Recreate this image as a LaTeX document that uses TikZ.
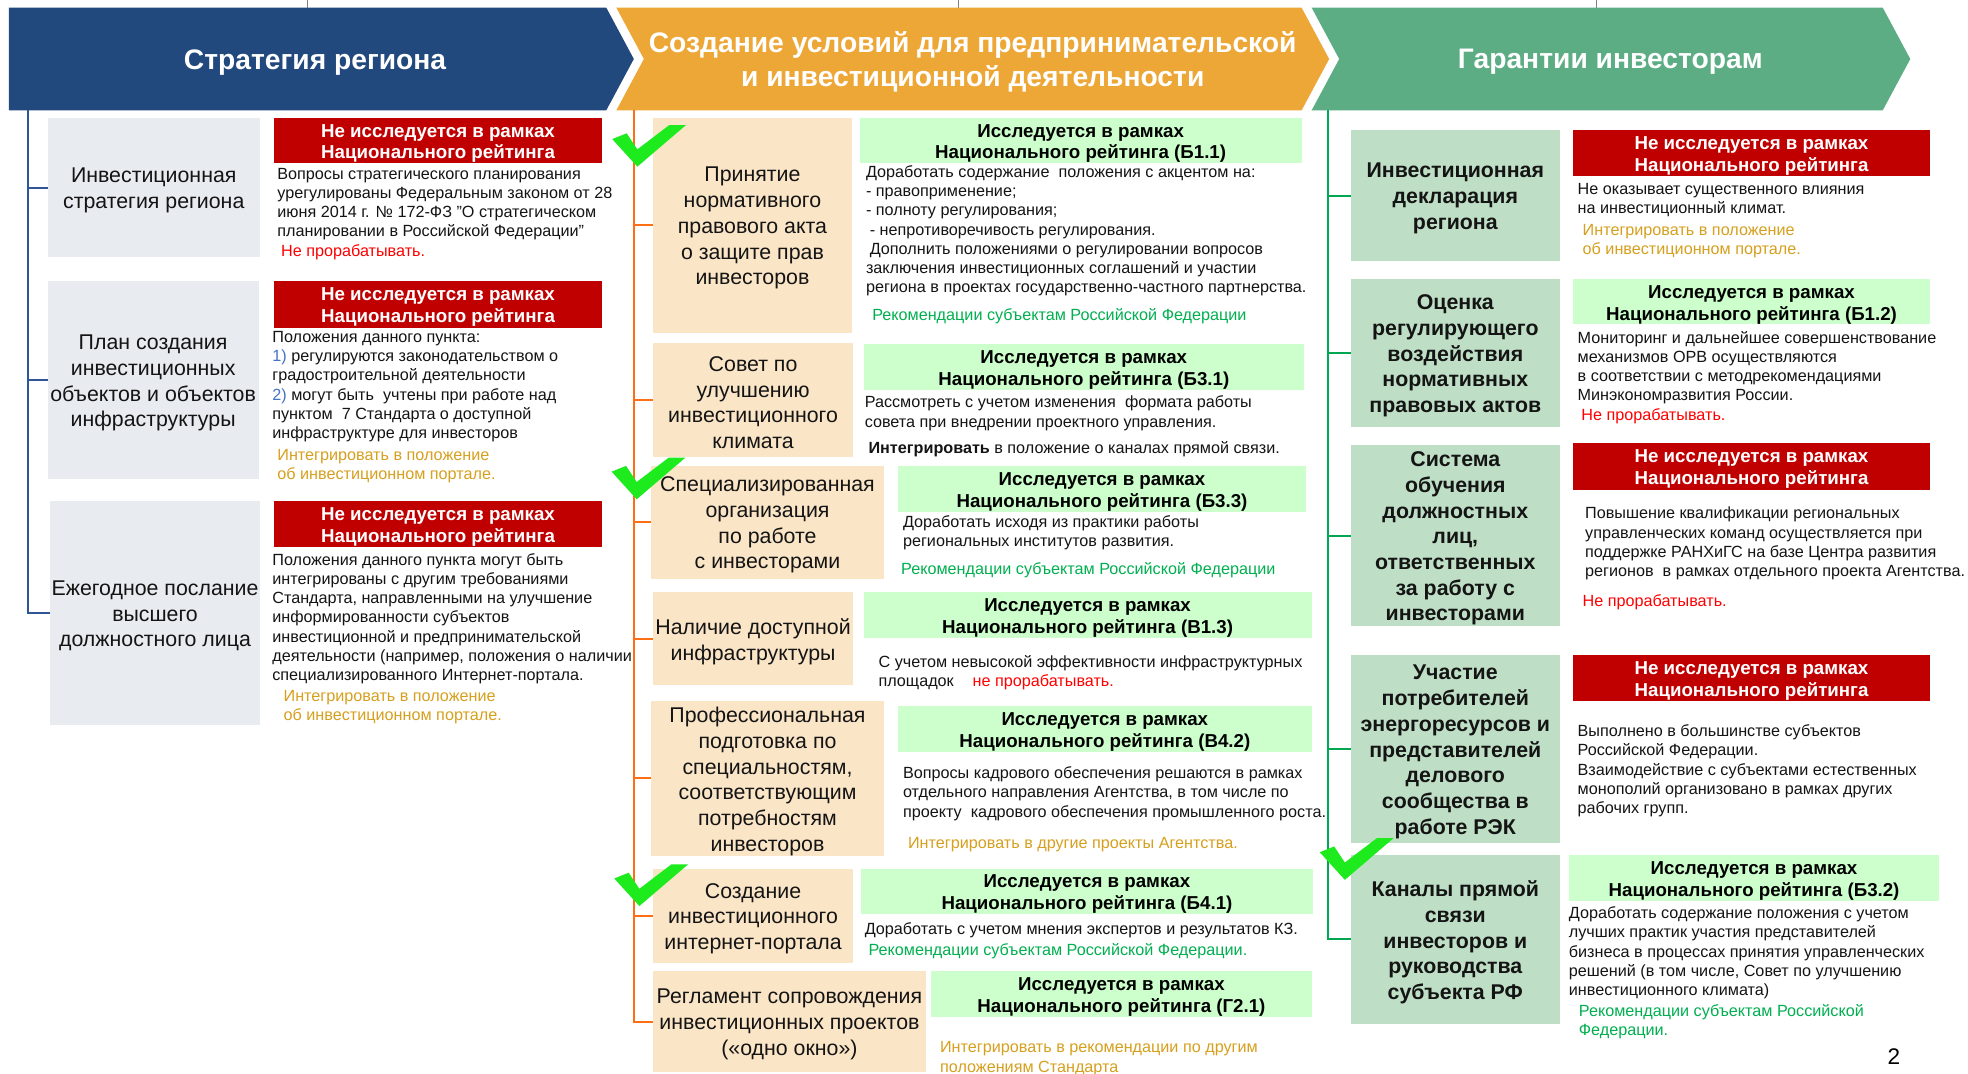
\documentclass[tikz,border=0pt]{standalone}
\usepackage{fontspec}
\setmainfont{Liberation Sans}
\definecolor{hblue}{RGB}{34,73,125}
\definecolor{horange}{RGB}{237,167,55}
\definecolor{hgreen}{RGB}{92,172,132}
\definecolor{gbox}{RGB}{232,235,240}
\definecolor{bbox}{RGB}{250,229,199}
\definecolor{sbox}{RGB}{190,223,197}
\definecolor{lgr}{RGB}{204,255,204}
\definecolor{rlab}{RGB}{192,0,0}
\definecolor{lblue}{RGB}{47,85,151}
\definecolor{lorange}{RGB}{255,110,20}
\definecolor{lgreen}{RGB}{0,166,81}
\definecolor{tgold}{RGB}{214,160,30}
\definecolor{tgreen}{RGB}{0,176,80}
\definecolor{tred}{RGB}{255,0,0}
\definecolor{tblue}{RGB}{68,114,196}
\definecolor{chkc}{RGB}{30,235,30}
\definecolor{txt}{RGB}{20,20,20}
\newcommand\bx[7]{\node[#2, minimum width={(#5-#3)*1pt}, minimum height={(#6-#4)*1pt}] (#1) at ({(#3+#5)/2},{(#4+#6)/2}) {};
\node[#2, fill=none, yshift=-2.3pt] (#1t) at (#1.center) {#7};}
\newcommand\chk[1]{\fill[chkc,shift={(#1)}] (-20,-22) -- (-8.5,-26.6) -- (0,-13.8) -- (25.5,-33.2) -- (38.8,-33.2) -- (0,0) -- cycle;}
\tikzset{
 boxbase/.style={inner sep=0pt, outer sep=0pt, align=center, text=txt},
 graybox/.style={boxbase, fill=gbox, font=\fontsize{17}{20.5}\selectfont},
 beigebox/.style={boxbase, fill=bbox, font=\fontsize{17}{20.5}\selectfont},
 sagebox/.style={boxbase, fill=sbox, font=\bfseries\fontsize{17}{20.5}\selectfont},
 redlab/.style={boxbase, fill=rlab, text=white, font=\bfseries\fontsize{14.9}{17.3}\selectfont},
 grnlab/.style={boxbase, fill=lgr, text=black, font=\bfseries\fontsize{14.9}{17.3}\selectfont},
 body/.style={anchor=north west, inner sep=0pt, outer sep=0pt, yshift=-2pt, align=left, text=txt, font=\fontsize{12.9}{15.3}\selectfont},
 goldt/.style={body, text=tgold},
 greent/.style={body, text=tgreen},
 redt/.style={body, text=tred},
 hdrtext/.style={text=white, font=\bfseries\fontsize{22.5}{27}\selectfont, align=center, inner sep=0pt, yshift=-1.5pt},
 bln/.style={draw=lblue, line width=1.6pt},
 oln/.style={draw=lorange, line width=1.6pt},
 gln/.style={draw=lgreen, line width=1.6pt},
 stub/.style={draw=gray, line width=0.8pt}
}
\begin{document}
\begin{tikzpicture}[x=1pt,y=-1pt]
\useasboundingbox[fill=white] (0,0) rectangle (1568,855);
% top stubs
\coordinate (t1) at (245,0); \coordinate (t2) at (764,0); \coordinate (t3) at (1272,0);
\draw[stub] (t1) -- ++(0,6);
\draw[stub] (t2) -- ++(0,6);
\draw[stub] (t3) -- ++(0,6);
% headers
\fill[hblue] (7,6) -- (483,6) -- (505,47) -- (483,88) -- (7,88) -- cycle;
\fill[horange] (491,6) -- (1037,6) -- (1059,47) -- (1037,88) -- (491,88) -- (513,47) -- cycle;
\fill[hgreen] (1045,6) -- (1500,6) -- (1522,47) -- (1500,88) -- (1045,88) -- (1067,47) -- cycle;
\node[hdrtext] (hb) at (251,48) {Стратегия региона};
\node[hdrtext] (ho) at (775,48) {Создание условий для предпринимательской\\и инвестиционной деятельности};
\node[hdrtext] (hg) at (1283,48) {Гарантии инвесторам};

% ---------- left column
\bx{g1}{graybox}{38}{94}{207}{205}{Инвестиционная\\стратегия региона}
\bx{g2}{graybox}{38}{224}{206}{382}{План создания\\инвестиционных\\объектов и объектов\\инфраструктуры}
\bx{g3}{graybox}{40}{399}{207}{578}{Ежегодное послание\\высшего\\должностного лица}
\bx{lr1}{redlab}{218}{94}{480}{130}{Не исследуется в рамках\\Национального рейтинга}
\bx{lr2}{redlab}{218}{224}{480}{261}{Не исследуется в рамках\\Национального рейтинга}
\bx{lr3}{redlab}{218}{399}{480}{436}{Не исследуется в рамках\\Национального рейтинга}
\node[body] (l1t) at (221,132) {Вопросы стратегического планирования\\урегулированы Федеральным законом от 28\\июня 2014 г. № 172-ФЗ "О стратегическом\\планировании в Российской Федерации"\\\hspace{3pt}\textcolor{tred}{Не прорабатывать.}};
\node[body] (l2t) at (217,262) {Положения данного пункта:\\\textcolor{tblue}{1)} регулируются законодательством о\\градостроительной деятельности\\\textcolor{tblue}{2)} могут быть\ \ учтены при работе над\\пунктом\ \ 7 Стандарта о доступной\\инфраструктуре для инвесторов};
\node[goldt] (l2g) at (221,356) {Интегрировать в положение\\об инвестиционном портале.};
\node[body] (l3t) at (217,439) {Положения данного пункта могут быть\\интегрированы с другим требованиями\\Стандарта, направленными на улучшение\\информированности субъектов\\инвестиционной и предпринимательской\\деятельности (например, положения о наличии\\специализированного Интернет-портала.};
\node[goldt] (l3g) at (226,548) {Интегрировать в положение\\об инвестиционном портале.};

% ---------- middle column
\bx{b1}{beigebox}{520}{94}{679}{265}{Принятие\\нормативного\\правового акта\\о защите прав\\инвесторов}
\bx{b2}{beigebox}{520}{273}{680}{364}{Совет по\\улучшению\\инвестиционного\\климата}
\bx{b3}{beigebox}{519}{371}{704}{461}{Специализированная\\организация\\по работе\\с инвесторами}
\bx{b4}{beigebox}{520}{472}{680}{546}{Наличие доступной\\инфраструктуры}
\bx{b5}{beigebox}{519}{558.5}{704}{682}{Профессиональная\\подготовка по\\специальностям,\\соответствующим\\потребностям\\инвесторов}
\bx{b6}{beigebox}{520}{692}{680}{767}{Создание\\инвестиционного\\интернет-портала}
\bx{b7}{beigebox}{520}{774}{738}{854}{Регламент сопровождения\\инвестиционных проектов\\(«одно окно»)}
\bx{m1}{grnlab}{685}{94}{1037}{130}{Исследуется в рамках\\Национального рейтинга (Б1.1)}
\bx{m2}{grnlab}{688}{274}{1039}{311}{Исследуется в рамках\\Национального рейтинга (Б3.1)}
\bx{m3}{grnlab}{715.5}{371}{1040.5}{408}{Исследуется в рамках\\Национального рейтинга (Б3.3)}
\bx{m4}{grnlab}{688}{472}{1045}{508}{Исследуется в рамках\\Национального рейтинга (В1.3)}
\bx{m5}{grnlab}{715.5}{562.5}{1045}{599}{Исследуется в рамках\\Национального рейтинга (В4.2)}
\bx{m6}{grnlab}{686}{692}{1046}{728}{Исследуется в рамках\\Национального рейтинга (Б4.1)}
\bx{m7}{grnlab}{742}{774}{1045}{810}{Исследуется в рамках\\Национального рейтинга (Г2.1)}
\node[body] (m1t) at (690,130) {Доработать содержание\ \ положения с акцентом на:\\- правоприменение;\\- полноту регулирования;\\\hspace{3pt}- непротиворечивость регулирования.\\\hspace{3pt}Дополнить положениями о регулировании вопросов\\заключения инвестиционных соглашений и участии\\региона в проектах государственно-частного партнерства.};
\node[greent] (m1g) at (695,244) {Рекомендации субъектам Российской Федерации};
\node[body] (m2t) at (689,313.5) {Рассмотреть с учетом изменения\ \ формата работы\\совета при внедрении проектного управления.};
\node[body] (m2b) at (692,349.5) {\textbf{Интегрировать} в положение о каналах прямой связи.};
\node[body] (m3t) at (719.5,409) {Доработать исходя из практики работы\\региональных институтов развития.};
\node[greent] (m3g) at (718,446) {Рекомендации субъектам Российской Федерации};
\node[body] (m4t) at (700,520) {С учетом невысокой эффективности инфраструктурных\\площадок\hspace{15pt}\textcolor{tred}{не прорабатывать.}};
\node[body] (m5t) at (719.5,609) {Вопросы кадрового обеспечения решаются в рамках\\отдельного направления Агентства, в том числе по\\проекту\ \ кадрового обеспечения промышленного роста.};
\node[goldt] (m5g) at (723.5,665) {Интегрировать в другие проекты Агентства.};
\node[body] (m6t) at (689,733) {Доработать с учетом мнения экспертов и результатов КЗ.};
\node[greent] (m6g) at (692,750) {Рекомендации субъектам Российской Федерации.};
\node[goldt] (m7g) at (749,828) {Интегрировать в рекомендации по другим\\положениям Стандарта};

% ---------- right column
\bx{s1}{sagebox}{1076}{103.6}{1243}{208}{Инвестиционная\\декларация\\региона}
\bx{s2}{sagebox}{1076}{222.6}{1243}{340}{Оценка\\регулирующего\\воздействия\\нормативных\\правовых актов}
\bx{s3}{sagebox}{1076}{354.5}{1243}{499}{Система\\обучения\\должностных\\лиц,\\ответственных\\за работу с\\инвесторами}
\bx{s4}{sagebox}{1076}{522}{1243}{671.5}{Участие\\потребителей\\энергоресурсов и\\представителей\\делового\\сообщества в\\работе РЭК}
\bx{s5}{sagebox}{1076}{681}{1243}{816}{Каналы прямой\\связи\\инвесторов и\\руководства\\субъекта РФ}
\bx{r1}{redlab}{1253}{103.6}{1538}{140}{Не исследуется в рамках\\Национального рейтинга}
\bx{r2}{grnlab}{1253}{222.6}{1538}{258.5}{Исследуется в рамках\\Национального рейтинга (Б1.2)}
\bx{r3}{redlab}{1253}{353}{1538}{390}{Не исследуется в рамках\\Национального рейтинга}
\bx{r4}{redlab}{1253}{522}{1538}{558.5}{Не исследуется в рамках\\Национального рейтинга}
\bx{r5}{grnlab}{1250}{681}{1545}{718}{Исследуется в рамках\\Национального рейтинга (Б3.2)}
\node[body] (r1t) at (1257,144) {Не оказывает существенного влияния\\на инвестиционный климат.};
\node[goldt] (r1g) at (1261,176.5) {Интегрировать в положение\\об инвестиционном портале.};
\node[body] (r2t) at (1257,262) {Мониторинг и дальнейшее совершенствование\\механизмов ОРВ осуществляются\\в соответствии с методрекомендациями\\Минэкономразвития России.\\\hspace{3pt}\textcolor{tred}{Не прорабатывать.}};
\node[body] (r3t) at (1263,402) {Повышение квалификации региональных\\управленческих команд осуществляется при\\поддержке РАНХиГС на базе Центра развития\\регионов\ \ в рамках отдельного проекта Агентства.};
\node[redt] (r3r) at (1261,472) {Не прорабатывать.};
\node[body] (r4t) at (1257,575.5) {Выполнено в большинстве субъектов\\Российской Федерации.\\Взаимодействие с субъектами естественных\\монополий организовано в рамках других\\рабочих групп.};
\node[body] (r5t) at (1250,720.5) {Доработать содержание положения с учетом\\лучших практик участия представителей\\бизнеса в процессах принятия управленческих\\решений (в том числе, Совет по улучшению\\инвестиционного климата)};
\node[greent] (r5g) at (1258,798) {Рекомендации субъектам Российской\\Федерации.};
\node[text=black, font=\fontsize{18}{20}\selectfont, inner sep=0pt] (pg) at (1509,842) {2};

% ---------- connectors
\coordinate (bl0) at (22,88);
\draw[bln] (bl0) |- (g3.west);
\foreach \n in {g1,g2} \draw[bln] (bl0 |- \n.west) -- (\n.west);
\coordinate (ol0) at (505,88);
\draw[oln] (ol0) |- (b7.west);
\foreach \n in {b1,b2,b3,b4,b5,b6} \draw[oln] (ol0 |- \n.west) -- (\n.west);
\coordinate (gl0) at (1058,88);
\draw[gln] (gl0) |- (s5.west);
\foreach \n in {s1,s2,s3,s4} \draw[gln] (gl0 |- \n.west) -- (\n.west);

% ---------- check marks
\chk{507.8,132.8}
\chk{507.3,397.8}
\chk{509.4,721.9}
\chk{1071.5,701}
\end{tikzpicture}
\end{document}
